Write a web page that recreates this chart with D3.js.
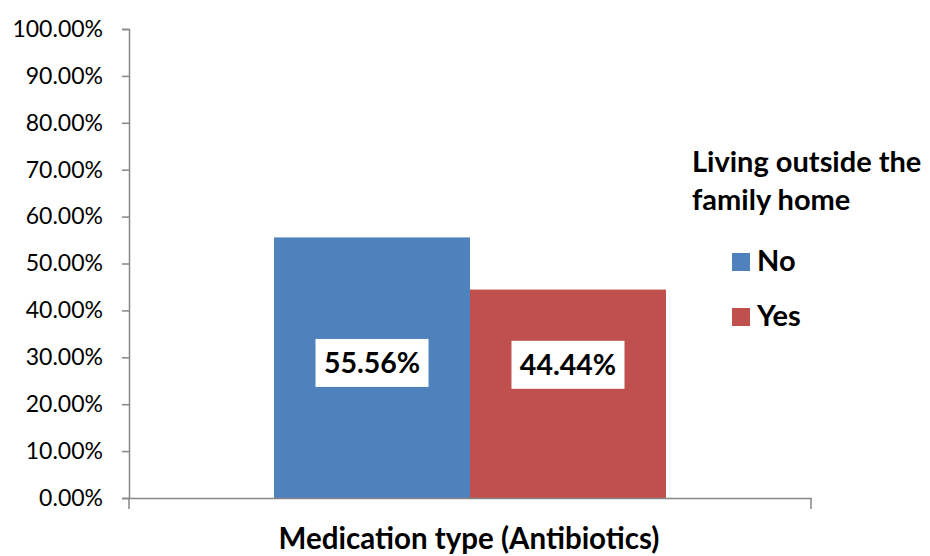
<!DOCTYPE html>
<html>
<head>
<meta charset="utf-8">
<script src="https://cdn.jsdelivr.net/npm/d3@7"></script>
<style>
  body { margin: 0; background: #fff; }
  text { font-family: Lato, "Open Sans", sans-serif; fill: #000; }
</style>
</head>
<body>
<div class="chart"></div>
<script>
// data
var categories = ["Medication type (Antibiotics)"];
var seriesNames = ["No", "Yes"];
var seriesValues = [55.56, 44.44];
var seriesColors = ["#4F81BD", "#C0504D"];
var yTicks = [0, 10, 20, 30, 40, 50, 60, 70, 80, 90, 100];
var legendTitle = ["Living outside the", "family home"];

var svgx = 930, svgy = 556;
var margin = {top: 29, right: 119, bottom: 58, left: 129};
var w = svgx - margin.left - margin.right;
var h = svgy - margin.top - margin.bottom;

var svg = d3.select(".chart").append("svg")
    .attr("width", svgx)
    .attr("height", svgy);
var g = svg.append("g")
    .attr("transform", "translate(" + margin.left + "," + margin.top + ")");

var yscale = d3.scaleLinear().domain([0, 100]).range([h, 0]);
var xscale = d3.scaleBand().domain(categories).range([0, w]).paddingInner(0).paddingOuter(0);
var inner = d3.scaleBand().domain(seriesNames).range([0, xscale.bandwidth()]).paddingInner(0).paddingOuter(0.74);

// y axis
var yaxis = d3.axisLeft(yscale).tickValues(yTicks).tickSize(7).tickPadding(19)
    .tickFormat(function(d) { return d.toFixed(2) + "%"; });
var yg = g.append("g").call(yaxis);
yg.select(".domain").attr("stroke", "#868686").attr("stroke-width", 1.5);
yg.selectAll(".tick line").attr("stroke", "#868686").attr("stroke-width", 1.5);
yg.selectAll(".tick text").attr("font-size", "23px").attr("font-family", "Lato").attr("fill", "#000");

// bars
g.selectAll("rect.bar")
    .data(seriesValues)
    .enter()
    .append("rect")
    .attr("class", "bar")
    .attr("x", function(d, i) { return xscale(categories[0]) + inner(seriesNames[i]); })
    .attr("y", function(d) { return yscale(d); })
    .attr("width", inner.bandwidth())
    .attr("height", function(d) { return h - yscale(d); })
    .attr("fill", function(d, i) { return seriesColors[i]; });

// x axis
var xaxis = d3.axisBottom(xscale).tickSize(0).tickFormat("");
var xg = g.append("g").attr("transform", "translate(0," + h + ")").call(xaxis);
xg.select(".domain").attr("stroke", "#868686").attr("stroke-width", 1.5);
xg.selectAll(".edge")
    .data([0, w])
    .enter()
    .append("line")
    .attr("x1", function(d) { return d; })
    .attr("x2", function(d) { return d; })
    .attr("y1", 0)
    .attr("y2", 11)
    .attr("stroke", "#868686")
    .attr("stroke-width", 1.5);

// value labels
var labelY = [28.8, 28.4];
var labels = g.selectAll("g.vlabel")
    .data(seriesValues)
    .enter()
    .append("g")
    .attr("class", "vlabel")
    .attr("transform", function(d, i) {
        return "translate(" + (inner(seriesNames[i]) + inner.bandwidth() / 2) + "," + yscale(labelY[i]) + ")";
    });
labels.append("rect")
    .attr("x", -56.5).attr("y", -24)
    .attr("width", 113).attr("height", 48)
    .attr("fill", "#fff");
labels.append("text")
    .attr("text-anchor", "middle")
    .attr("dy", "0.36em")
    .attr("font-size", "28.5px")
    .attr("font-weight", "bold")
    .text(function(d) { return d.toFixed(2) + "%"; });

// axis title
g.append("text")
    .attr("x", w / 2 - 1)
    .attr("y", h + 51)
    .attr("text-anchor", "middle")
    .attr("font-size", "29.5px")
    .attr("font-weight", "bold")
    .text(categories[0]);

// legend
var legend = svg.append("g").attr("transform", "translate(692,0)");
legend.selectAll("text.ltitle")
    .data(legendTitle)
    .enter()
    .append("text")
    .attr("class", "ltitle")
    .attr("x", 0)
    .attr("y", function(d, i) { return 172 + i * 38; })
    .attr("font-size", "29px")
    .attr("font-weight", "bold")
    .text(function(d) { return d; });

var items = legend.selectAll("g.item")
    .data(seriesNames)
    .enter()
    .append("g")
    .attr("class", "item")
    .attr("transform", function(d, i) { return "translate(40," + (253 + i * 55) + ")"; });
items.append("rect")
    .attr("width", 18).attr("height", 18)
    .attr("fill", function(d, i) { return seriesColors[i]; });
items.append("text")
    .attr("x", 25)
    .attr("y", 18)
    .attr("font-size", "29px")
    .attr("font-weight", "bold")
    .text(function(d) { return d; });
</script>
</body>
</html>
